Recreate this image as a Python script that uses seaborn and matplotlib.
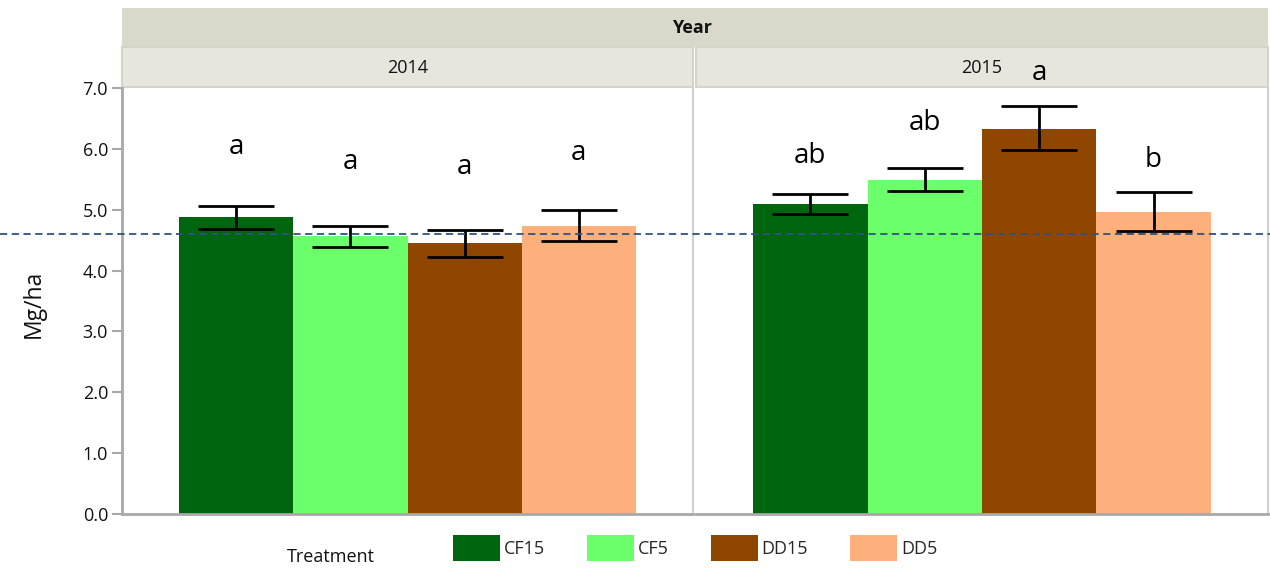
import numpy as np
import pandas as pd
import matplotlib
matplotlib.use("Agg")
import matplotlib.pyplot as plt
import seaborn as sns
from matplotlib.patches import Rectangle, Patch
from matplotlib.lines import Line2D
from matplotlib.transforms import blended_transform_factory

# data
treatments = ["CF15", "CF5", "DD15", "DD5"]
years = ["2014", "2015"]
mean_2014 = [4.88, 4.56, 4.45, 4.74]
lower_2014 = [4.68, 4.39, 4.23, 4.49]
upper_2014 = [5.06, 4.73, 4.66, 5.00]
mean_2015 = [5.09, 5.49, 6.33, 4.96]
lower_2015 = [4.93, 5.30, 5.98, 4.65]
upper_2015 = [5.26, 5.68, 6.70, 5.29]
letters_2014 = ["a", "a", "a", "a"]
letters_2015 = ["ab", "ab", "a", "b"]
letter_y_2014 = [5.91, 5.67, 5.58, 5.82]   # baseline of the letters
letter_y_2015 = [5.77, 6.31, 7.13, 5.70]
overall_mean = 4.6

colors = ["#00650F", "#6BFF6B", "#8F4700", "#FDB07C"]

df = pd.DataFrame({
    "Year": np.repeat(years, len(treatments)),
    "Treatment": treatments * len(years),
    "Mg/ha": mean_2014 + mean_2015,
    "lower": lower_2014 + lower_2015,
    "upper": upper_2014 + upper_2015,
    "letter": letters_2014 + letters_2015,
    "letter_y": letter_y_2014 + letter_y_2015,
})

sns.set_style("white")
plt.rcParams["font.family"] = ["Open Sans", "DejaVu Sans"]

W, H = 1270, 568
fig = plt.figure(figsize=(W / 100, H / 100), dpi=100)


def fx(px):
    return px / W


def fy(px):
    return 1 - px / H


bottom, top = 514, 88
ax1 = fig.add_axes([fx(122), fy(bottom), fx(693 - 122), (bottom - top) / H])
ax2 = fig.add_axes([fx(696), fy(bottom), fx(1268 - 696), (bottom - top) / H])

grey = "#A8A8A8"
light = "#D0D0D0"
txt = "#111111"

for ax, year in zip([ax1, ax2], years):
    sub = df[df["Year"] == year].reset_index(drop=True)
    sns.barplot(data=sub, x="Treatment", y="Mg/ha", hue="Treatment",
                order=treatments, hue_order=treatments, palette=colors,
                saturation=1, width=1, legend=False, ax=ax, zorder=2,
                linewidth=0, edgecolor="none")
    xs = np.arange(len(sub))
    ax.errorbar(xs, sub["Mg/ha"],
                yerr=[sub["Mg/ha"] - sub["lower"], sub["upper"] - sub["Mg/ha"]],
                fmt="none", ecolor="black", elinewidth=2, capsize=27.5,
                capthick=2, zorder=4)
    for i, row in sub.iterrows():
        ax.text(i, row["letter_y"], row["letter"], ha="center", va="baseline",
                fontsize=20, color="black", clip_on=False, zorder=6)
    ax.set_xlim(-1.0, 4.0)
    ax.set_ylim(0, 7)
    ax.set_xlabel("")
    ax.set_ylabel("")
    ax.set_xticks([])
    for s in ax.spines.values():
        s.set_visible(False)
    ax.spines["bottom"].set_visible(True)
    ax.spines["bottom"].set_color(grey)
    ax.spines["bottom"].set_linewidth(2)

ax1.set_yticks(np.arange(0, 8, 1))
ax1.set_yticklabels([f"{v:.1f}" for v in np.arange(0, 8, 1)])
ax1.tick_params(axis="y", left=True, length=7, width=1.5, color=grey,
                labelsize=13, labelcolor=txt, pad=3)
ax1.spines["left"].set_visible(True)
ax1.spines["left"].set_color(grey)
ax1.spines["left"].set_linewidth(2)
ax1.spines["right"].set_visible(True)
ax1.spines["right"].set_color(light)
ax1.spines["right"].set_linewidth(1.5)
ax2.set_yticks([])
ax2.spines["right"].set_visible(True)
ax2.spines["right"].set_color(light)
ax2.spines["right"].set_linewidth(1.5)

# header strips
fig.patches.append(Rectangle((fx(122), fy(47)), fx(1268 - 122), (47 - 8) / H,
                             transform=fig.transFigure, facecolor="#DAD8CB",
                             edgecolor="none", zorder=-1))
for x0, x1, year in [(122, 693, "2014"), (696, 1268, "2015")]:
    fig.patches.append(Rectangle((fx(x0), fy(87)), fx(x1 - x0), (87 - 47) / H,
                                 transform=fig.transFigure, facecolor="#E6E6DE",
                                 edgecolor="#D6D4C6", linewidth=1.5, zorder=-1))
    fig.text(fx((x0 + x1) / 2), fy(68), year, ha="center", va="center",
             fontsize=13, color=txt)
fig.text(fx(692), fy(28), "Year", ha="center", va="center", fontsize=13,
         fontweight="bold", color=txt)

# overall mean reference line across the whole figure
trans = blended_transform_factory(fig.transFigure, ax1.transData)
fig.add_artist(Line2D([0, 1], [overall_mean, overall_mean], transform=trans,
                      color="#2F5282", linestyle=(0, (4, 2.5)), linewidth=1.3,
                      zorder=5))

fig.text(fx(34), fy(304), "Mg/ha", rotation=90, ha="center", va="center",
         fontsize=16.5, color=txt)

# legend
handles = [Patch(facecolor=c, edgecolor="none", label=t)
           for c, t in zip(colors, treatments)]
fig.legend(handles=handles, loc="center left", bbox_to_anchor=(fx(453), fy(548)),
           ncol=4, frameon=False, handlelength=2.6, handleheight=1.9,
           handletextpad=0.2, columnspacing=2.35, fontsize=13,
           borderpad=0, borderaxespad=0)
fig.text(fx(331), fy(557), "Treatment", ha="center", va="center", fontsize=13,
         color=txt)

fig.savefig("out.png", dpi=100)
